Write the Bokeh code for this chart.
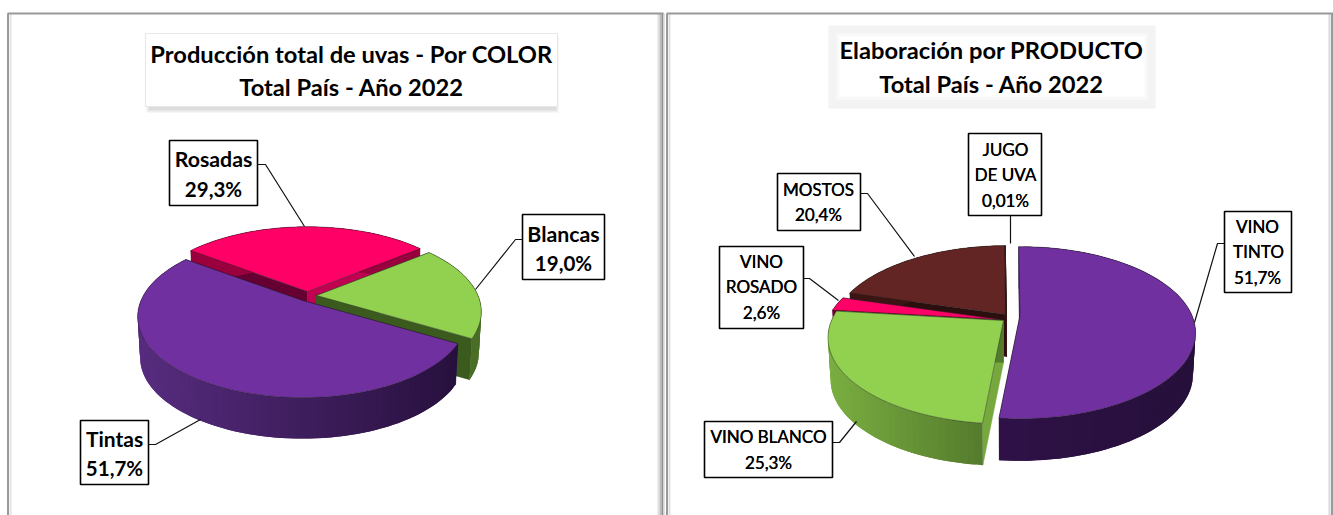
import math
from bokeh.plotting import figure
from bokeh.models import Range1d
from bokeh.core.properties import value
from bokeh.embed import file_html
from bokeh.resources import INLINE

# ---------- data ----------
color_names = ["Tintas", "Rosadas", "Blancas"]
color_values = [51.7, 29.3, 19.0]
color_texts = ["51,7%", "29,3%", "19,0%"]

product_names = ["VINO TINTO", "VINO BLANCO", "VINO ROSADO", "MOSTOS", "JUGO DE UVA"]
product_values = [51.7, 25.3, 2.6, 20.4, 0.01]
product_texts = ["51,7%", "25,3%", "2,6%", "20,4%", "0,01%"]

# ---------- layout / style ----------
W, H = 1333, 515
FONT = value("Lato")
K = 0.20

p = figure(width=W, height=H, output_backend="svg", toolbar_location=None,
           x_range=Range1d(0, W), y_range=Range1d(H, 0),
           min_border=0, outline_line_color=None, background_fill_color="white")
p.axis.visible = False
p.grid.visible = False


def project(cx, cy, rx, ry, deg):
    t = math.radians(deg)
    u, v = math.sin(t), -math.cos(t)
    s = 1 / (1 - K * v)
    return cx + rx * u * s, cy + ry * v * s


def hex2rgb(h):
    return [int(h[i:i + 2], 16) for i in (1, 3, 5)]


def mix(a, b, f):
    f = max(0, min(1, f))
    ca, cb = hex2rgb(a), hex2rgb(b)
    return "#%02x%02x%02x" % tuple(round(x + (y - x) * f) for x, y in zip(ca, cb))


def slice3d(cx, cy, rx, ry, d, a0, a1, top, side_l, side_r, face0, face1, xl, xr):
    n = max(3, int((a1 - a0) / 2))
    angs = [a0 + (a1 - a0) * i / n for i in range(n + 1)]
    pts = [project(cx, cy, rx, ry, a) for a in angs]
    sq = 0.985
    low = lambda q: (cx + (q[0] - cx) * sq, q[1] + d)
    apex = (cx, cy)
    for q, col in ((pts[0], face0), (pts[-1], face1)):
        pp = [apex, q, low(q), low(apex)]
        p.patch([a[0] for a in pp], [a[1] for a in pp], fill_color=col, line_color=col, line_width=0.5)
    xs, ys, cols = [], [], []
    for i in range(n):
        j = min(n, i + 2)
        arc = pts[i:j + 1]
        q = arc + [low(a) for a in reversed(arc)]
        xs.append([a[0] for a in q])
        ys.append([a[1] for a in q])
        cols.append(mix(side_l, side_r, ((pts[i][0] + pts[i + 1][0]) / 2 - xl) / (xr - xl)))
    p.patches(xs, ys, fill_color=cols, line_color=None)
    X = [apex[0]] + [a[0] for a in pts]
    Y = [apex[1]] + [a[1] for a in pts]
    p.patch(X, Y, fill_color=top, line_color="#222222", line_alpha=0.55, line_width=0.8)


def spans(vals, start):
    tot = sum(vals)
    out, a = [], start
    for v in vals:
        b = a + 360 * v / tot
        out.append((a, b))
        a = b
    return out


def box(l, t, r, b, fill="white", line="black", lw=1.6):
    p.patch([l, r, r, l], [t, t, b, b], fill_color=fill, line_color=line, line_width=lw)


def seg(xs, ys, col="#111111", lw=1.2):
    p.line(xs, ys, line_color=col, line_width=lw)


def txt(x, y, s, size, style="bold", col="#000000"):
    p.text([x], [y], text=[s], text_font=FONT, text_font_size=size, text_font_style=style,
           text_align="center", text_baseline="middle", text_color=col)


def txt2(x, y, s, size="17px"):
    txt(x - 0.2, y, s, size, "normal")
    txt(x + 0.2, y, s, size, "normal")


# ---------- panels ----------
for x, col, lw in [(7.5, "#9a9a9a", 2), (10, "#e4e4e4", 2),
                   (658, "#e0e0e0", 2), (660, "#bdbdbd", 2), (662, "#8f8f8f", 2), (663.5, "#d8d8d8", 1.5),
                   (666.5, "#9a9a9a", 2), (669, "#dfdfdf", 2),
                   (1329, "#d8d8d8", 2), (1331.5, "#9a9a9a", 2)]:
    seg([x, x], [13, 515], col, lw)
seg([7, 663], [13, 13], "#9a9a9a", 1.8)
seg([666, 1333], [13, 13], "#9a9a9a", 1.8)

# ---------- title boxes ----------
for i, c in enumerate(["#f4f4f4", "#ececec", "#e4e4e4", "#dcdcdc"]):
    box(146 + i, 36 + i, 558 - i, 112 - i, c, c, 0.5)
box(145, 33, 557, 106, "white", "#e8e8e8", 1.2)
txt(351, 53, "Producción total de uvas - Por COLOR", "23.7px")
txt(351, 86, "Total País - Año 2022", "23.7px")

box(828, 25, 1155, 108, "#f3f3f3", "#f6f6f6", 0.5)
box(836, 33, 1147, 99, "#f9f9f9", "#f9f9f9", 0.5)
box(839, 36, 1144, 96, "white", "white", 0.5)
txt(991, 49, "Elaboración por PRODUCTO", "23.7px")
txt(991, 83, "Total País - Año 2022", "23.7px")

# ---------- left pie ----------
RX1, RY1, D1 = 161.5, 77.7, 41
a_col = spans(color_values, 120)
slice3d(307, 291, RX1, RY1, D1, a_col[1][0], a_col[1][1], "#FF0066", "#99003d", "#99003d", "#660033", "#c00050", 137, 481)
slice3d(316, 295, RX1, RY1, D1, a_col[2][0], a_col[2][1], "#92D050", "#3f6020", "#4a6e26", "#3b5a1e", "#3b5a1e", 137, 481)
slice3d(302, 300, RX1, RY1, D1, a_col[0][0], a_col[0][1], "#7030A0", "#572c7f", "#27103d", "#27103d", "#27103d", 137, 460)

# ---------- right pie ----------
RX2, RY2, D2 = 172, 82.6, 42
a_pro = spans(product_values, -0.5)
slice3d(1006, 314, RX2, RY2, D2, a_pro[3][0], a_pro[3][1], "#632523", "#3a1514", "#3a1514", "#2b0f0f", "#3a1514", 827, 1195)
slice3d(1006, 314, RX2, RY2, D2, a_pro[4][0], a_pro[4][1], "#4F81BD", "#3a1514", "#3a1514", "#3a1514", "#3a1514", 827, 1195)
slice3d(999, 319, RX2, RY2, D2, a_pro[2][0], a_pro[2][1], "#FF0066", "#6d0033", "#6d0033", "#6d0033", "#6d0033", 827, 1195)
slice3d(1003, 320, RX2, RY2, D2, a_pro[1][0], a_pro[1][1], "#92D050", "#7aae41", "#547a2c", "#76a83e", "#547a2c", 827, 985)
slice3d(1019.5, 315, RX2, RY2, D2, a_pro[0][0], a_pro[0][1], "#7030A0", "#2f1148", "#26103a", "#26103a", "#26103a", 995, 1195)

# ---------- leaders ----------
seg([257, 265, 304], [164, 164, 226])
seg([522, 515, 475], [239, 239, 289])
seg([148, 155, 200], [444, 444, 419])
seg([1010, 1010], [215, 243])
seg([860, 867, 914], [193, 193, 256])
seg([803, 809, 838], [278, 278, 300])
seg([1224, 1217, 1194], [243, 243, 322])
seg([832, 839, 856], [442, 442, 421])

# ---------- labels ----------
box(169, 140, 257, 205)
txt(213, 158, color_names[1], "21.3px"); txt(213, 188, color_texts[1], "20.5px")
box(522, 214, 604, 279)
txt(563, 233, color_names[2], "21.3px"); txt(563, 262, color_texts[2], "20.5px")
box(80, 420, 148, 484)
txt(114, 438, color_names[0], "21px"); txt(114, 467, color_texts[0], "20.5px")

box(968, 133, 1041, 215)
txt2(1005, 149, "JUGO"); txt2(1005, 174, "DE UVA"); txt2(1005, 200, product_texts[4])
box(777, 173, 860, 230)
txt2(818, 189, product_names[3]); txt2(818, 214, product_texts[3])
box(719, 246, 803, 328)
txt2(761, 261, "VINO"); txt2(761, 286, "ROSADO"); txt2(761, 312, product_texts[2])
box(1224, 211, 1291, 292)
txt2(1257, 226, "VINO"); txt2(1258, 251, "TINTO"); txt2(1257, 277, product_texts[0])
box(704, 421, 832, 477)
txt2(768, 436, product_names[1]); txt2(768, 462, product_texts[1])

open("out.html", "w").write(file_html(p, INLINE))
